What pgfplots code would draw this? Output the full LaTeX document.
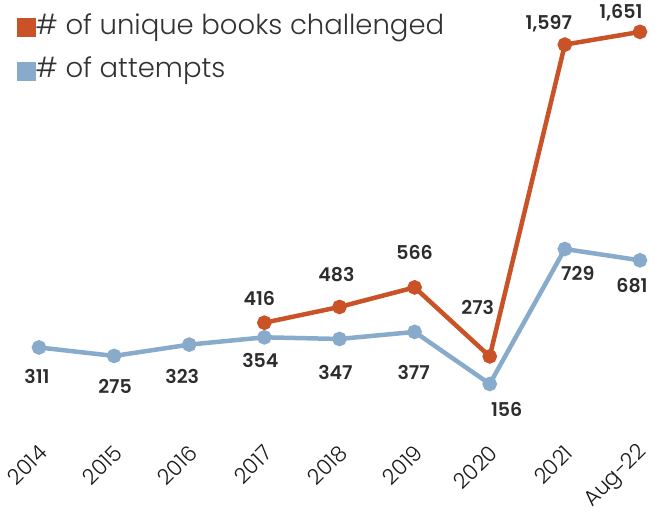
\documentclass[border=0pt]{standalone}
\usepackage{pgfplots}
\usepackage{pgfplotstable}
\pgfplotsset{compat=1.18}
\usepackage{fontspec}
\setmainfont{Poppins}
\newfontfamily\lightfont{Poppins Light}
\newfontfamily\semifont{Poppins SemiBold}
\definecolor{orng}{RGB}{201,82,38}
\definecolor{blu}{RGB}{137,171,203}
\definecolor{txt}{RGB}{50,50,50}
\definecolor{lab}{RGB}{45,45,45}

\pgfplotstableread{
x y lab dx dy
0 311 311 -2 -29.5
1 275 275 1 -30.5
2 323 323 -7 -31.5
3 354 354 -4 -23
4 347 347 -4 -33.5
5 377 377 -1 -40.5
6 156 156 17 -25
7 729 729 13 -24.5
8 681 681 -8 -25.5
}\attempts

\pgfplotstableread{
x y lab dx dy
3 416 416 -5 24.5
4 483 483 -3 32
5 566 566 0 34.5
6 273 273 -12 49
7 1597 {1,597} -16 21
8 1651 {1,651} -19 19
}\unique

\pgfplotsset{lbl/.style={
  nodes near coords,
  point meta=explicit symbolic,
  visualization depends on={\thisrow{dx}\as\dx},
  visualization depends on={\thisrow{dy}\as\dy},
  every node near coord/.append style={anchor=center, xshift=\dx pt, yshift=\dy pt, font=\fontsize{19}{22}\semifont, text=lab},
}}

\begin{document}
\begin{tikzpicture}
\begin{axis}[
  name=ax,
  scale only axis,
  width=655pt, height=453pt,
  xmin=-0.519, xmax=8.2,
  ymin=-137.2, ymax=1786.4,
  axis line style={draw=none},
  clip=false,
  xtick={0,...,8},
  xtick pos=bottom,
  xticklabels={2014,2015,2016,2017,2018,2019,2020,2021,Aug-22},
  ytick=\empty,
  major tick length=0pt,
  xticklabel style={shift={(4pt,4pt)}, rotate=45, anchor=east, font=\fontsize{21.5}{23}\lightfont, text=black!90, inner sep=0pt},
  legend style={at={(0,1)}, anchor=north west, xshift=17pt, yshift=-13pt, draw=none, fill=none,
    font=\fontsize{27.5}{30}\lightfont, text=txt, row sep=20pt, inner sep=0pt,
    nodes={inner sep=0pt, text depth=0pt, anchor=west, xshift=7pt}},
  legend cell align=left,
  legend image code/.code={\fill (0pt,-11pt) rectangle (14pt,3pt);},
]
\addplot[color=orng, line width=4.5pt, mark=*, mark size=5pt, lbl] table[x=x, y=y, meta=lab] {\unique};
\addlegendentry{\# of unique books challenged}
\addplot[color=blu, line width=4.5pt, mark=*, mark size=5pt, lbl] table[x=x, y=y, meta=lab] {\attempts};
\addlegendentry{\# of attempts}
\end{axis}
\pgfresetboundingbox
\path[use as bounding box] ([yshift=-59pt]ax.south west) rectangle (ax.north east);
\end{tikzpicture}
\end{document}
